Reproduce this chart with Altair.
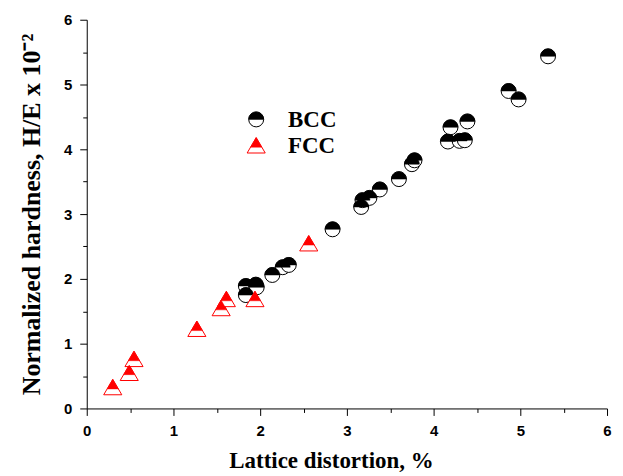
import altair as alt
import pandas as pd

# BCC alloys: lattice distortion (%) and normalized hardness H/E (x 10^-2)
bcc_x = [1.835, 1.835, 1.95, 1.96, 2.14, 2.26, 2.33, 2.835, 3.165, 3.18, 3.26, 3.38,
         3.60, 3.75, 3.78, 4.165, 4.195, 4.30, 4.36, 4.39, 4.865, 4.98, 5.32]
bcc_y = [1.89, 1.75, 1.91, 1.87, 2.06, 2.18, 2.215, 2.765, 3.11, 3.215, 3.25, 3.38,
         3.54, 3.77, 3.83, 4.12, 4.34, 4.13, 4.14, 4.43, 4.90, 4.77, 5.435]

# FCC alloys
fcc_x = [0.30, 0.49, 0.545, 1.27, 1.55, 1.61, 1.94, 2.56]
fcc_y = [0.33, 0.55, 0.765, 1.23, 1.55, 1.69, 1.69, 2.55]

legend_labels = ["BCC", "FCC"]
x_title = "Lattice distortion, %"
y_title = "Normalized hardness, H/E x 10\u207b\u00b2"
tick_values = [i * 0.5 for i in range(13)]

bcc = pd.DataFrame({"x": bcc_x, "y": bcc_y})
fcc = pd.DataFrame({"x": fcc_x, "y": fcc_y})

HALF_CIRCLE = "M -1 0 A 1 1 0 0 1 1 0 Z"
TRI = "M 0 -0.85 L 1 0.85 L -1 0.85 Z"
HALF_TRI = "M 0 -0.85 L 0.618 0.2 L -0.618 0.2 Z"
RED = "#ff0000"

tick_size = {"condition": {"test": "datum.value % 1 === 0", "value": 7}, "value": 4}
label_expr = "datum.value % 1 === 0 ? format(datum.value, 'd') : ''"

x_enc = alt.X(
    "x:Q",
    scale=alt.Scale(domain=[0, 6], nice=False, zero=False),
    axis=alt.Axis(values=tick_values, title=x_title, labelExpr=label_expr,
                  tickSize=tick_size, labelFlush=False, labelOverlap=False,
                  labelPadding=8, titlePadding=11, titleFontSize=23, titleX=245),
)
y_enc = alt.Y(
    "y:Q",
    scale=alt.Scale(domain=[0, 6], nice=False, zero=False),
    axis=alt.Axis(values=tick_values, title=y_title, labelExpr=label_expr,
                  tickSize=tick_size, labelFlush=False, labelOverlap=False,
                  labelPadding=8, titlePadding=19, titleFontSize=26),
)

SZ_C = 225
SZ_T = 330

bcc_base = alt.Chart(bcc).mark_point(shape="circle", filled=True, fill="white", stroke="black",
                                     strokeWidth=1, size=SZ_C, opacity=1).encode(x=x_enc, y=y_enc)
bcc_half = alt.Chart(bcc).mark_point(shape=HALF_CIRCLE, filled=True, fill="black", stroke="black",
                                     strokeWidth=0.5, size=SZ_C, opacity=1).encode(x=x_enc, y=y_enc)
fcc_base = alt.Chart(fcc).mark_point(shape=TRI, filled=True, fill="white", stroke=RED,
                                     strokeWidth=1, size=SZ_T, opacity=1).encode(x=x_enc, y=y_enc)
fcc_half = alt.Chart(fcc).mark_point(shape=HALF_TRI, filled=True, fill=RED, stroke=RED,
                                     strokeWidth=0.5, size=SZ_T, opacity=1).encode(x=x_enc, y=y_enc)

# manual legend
lg_bcc = pd.DataFrame({"label": [legend_labels[0]]})
lg_fcc = pd.DataFrame({"label": [legend_labels[1]]})
LX, LTX, LY1, LY2 = 170, 202, 100, 126

leg = [
    alt.Chart(lg_bcc).mark_point(shape="circle", filled=True, fill="white", stroke="black",
                                 strokeWidth=1, size=SZ_C, opacity=1).encode(x=alt.value(LX), y=alt.value(LY1)),
    alt.Chart(lg_bcc).mark_point(shape=HALF_CIRCLE, filled=True, fill="black", stroke="black",
                                 strokeWidth=0.5, size=SZ_C, opacity=1).encode(x=alt.value(LX), y=alt.value(LY1)),
    alt.Chart(lg_fcc).mark_point(shape=TRI, filled=True, fill="white", stroke=RED,
                                 strokeWidth=1, size=SZ_T, opacity=1).encode(x=alt.value(LX), y=alt.value(LY2)),
    alt.Chart(lg_fcc).mark_point(shape=HALF_TRI, filled=True, fill=RED, stroke=RED,
                                 strokeWidth=0.5, size=SZ_T, opacity=1).encode(x=alt.value(LX), y=alt.value(LY2)),
    alt.Chart(lg_bcc).mark_text(font="Liberation Serif", fontWeight="bold", fontSize=23, align="left",
                                baseline="middle", color="black").encode(
        x=alt.value(LTX), y=alt.value(LY1 + 1), text="label:N"),
    alt.Chart(lg_fcc).mark_text(font="Liberation Serif", fontWeight="bold", fontSize=23, align="left",
                                baseline="middle", color="black").encode(
        x=alt.value(LTX), y=alt.value(LY2 + 1), text="label:N"),
]

chart = alt.layer(bcc_base, bcc_half, fcc_base, fcc_half, *leg).properties(
    width=522, height=390,
    autosize=alt.AutoSizeParams(type="none"),
    padding={"left": 79, "top": 11, "right": 8, "bottom": 66},
).configure_view(strokeWidth=0).configure_axis(
    grid=False, domainColor="black", domainWidth=1, tickColor="black", tickWidth=1,
    labelFont="Liberation Sans", labelFontWeight="bold", labelFontSize=15, labelColor="black",
    titleFont="Liberation Serif", titleFontWeight="bold", titleColor="black",
)

chart.save("out.html", embed_options={"renderer": "svg", "actions": False})
